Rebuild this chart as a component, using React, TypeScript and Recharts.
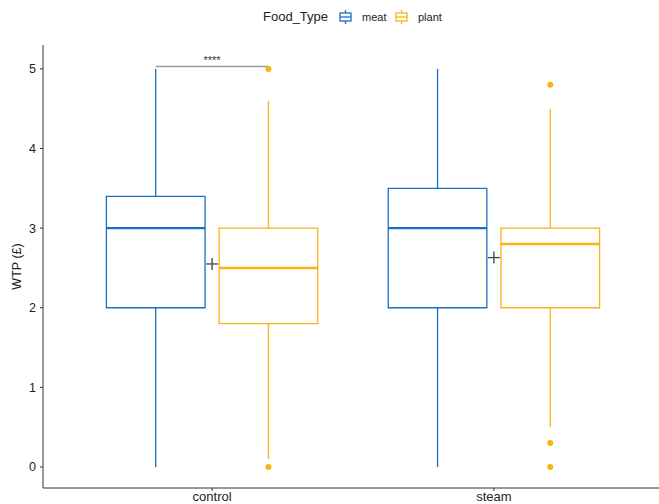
import React from 'react'
import {
  ComposedChart,
  XAxis,
  YAxis,
  Scatter,
  ReferenceArea,
  ReferenceLine,
} from 'recharts'

const groups = ['control', 'steam']
const foodTypes = ['meat', 'plant']
const foodColors = ['#1b6fc2', '#f9b313']

// five-number summaries per group (control, steam)
const meatMin = [0, 0]
const meatQ1 = [2, 2]
const meatMedian = [3, 3]
const meatQ3 = [3.4, 3.5]
const meatMax = [5, 5]

const plantMin = [0.1, 0.5]
const plantQ1 = [1.8, 2]
const plantMedian = [2.5, 2.8]
const plantQ3 = [3, 3]
const plantMax = [4.6, 4.5]

const plantOutliers = [[0, 5], [0, 0.3, 4.8]]
const groupMeans = [2.55, 2.63]

const yTicks = [0, 1, 2, 3, 4, 5]
const xTicks = [1, 2]
const pLabel = '****'
const bracketY = 5.03

const DODGE = 0.2
const HALF_BOX = 0.175
const FONT = '"Liberation Sans", Arial, sans-serif'
const AXIS = '#333333'

const stats = [
  { min: meatMin, q1: meatQ1, med: meatMedian, q3: meatQ3, max: meatMax },
  { min: plantMin, q1: plantQ1, med: plantMedian, q3: plantQ3, max: plantMax },
]

const boxes = foodTypes.flatMap((food, fi) =>
  groups.map((group, gi) => ({
    key: `${food}-${group}`,
    x: gi + 1 + (fi === 0 ? -DODGE : DODGE),
    color: foodColors[fi],
    min: stats[fi].min[gi],
    q1: stats[fi].q1[gi],
    med: stats[fi].med[gi],
    q3: stats[fi].q3[gi],
    max: stats[fi].max[gi],
  }))
)

const outlierData = plantOutliers.flatMap((vals, gi) =>
  vals.map((v) => ({ x: gi + 1 + DODGE, y: v }))
)
const meanData = groupMeans.map((m, gi) => ({ x: gi + 1, y: m }))

const PlusShape = (props: any) => {
  const { cx, cy } = props
  return (
    <g stroke="#444" strokeWidth={1.3}>
      <line x1={cx - 6} x2={cx + 6} y1={cy} y2={cy} />
      <line x1={cx} x2={cx} y1={cy - 6} y2={cy + 6} />
    </g>
  )
}

const DotShape = (props: any) => (
  <circle cx={props.cx} cy={props.cy} r={3} fill={foodColors[1]} />
)

const BoxKey = ({ color }: { color: string }) => (
  <svg width={13} height={14} style={{ display: 'block' }}>
    <g stroke={color} strokeWidth={1.3} fill="none">
      <line x1={6.5} x2={6.5} y1={0} y2={3} />
      <line x1={6.5} x2={6.5} y1={11} y2={14} />
      <rect x={1} y={3} width={11} height={8} />
      <line x1={1} x2={12} y1={7} y2={7} />
    </g>
  </svg>
)

export default function App() {
  return (
    <div style={{ position: 'relative', width: 659, height: 504, overflow: 'hidden', background: '#fff' }}>
      <style>{'body{margin:0}'}</style>
      <div style={{ position: 'absolute', left: 263, top: 9, fontFamily: FONT, fontSize: 13, color: '#222' }}>
        Food_Type
      </div>
      {foodTypes.map((food, i) => (
        <div
          key={food}
          style={{
            position: 'absolute',
            left: i === 0 ? 339 : 395,
            top: 10,
            display: 'flex',
            alignItems: 'center',
            gap: 10,
            fontFamily: FONT,
            fontSize: 11,
            color: '#222',
          }}
        >
          <BoxKey color={foodColors[i]} />
          <span>{food}</span>
        </div>
      ))}
      <ComposedChart width={664} height={504} margin={{ top: 45, right: 1, left: 0, bottom: 0 }}>
        <XAxis
          type="number"
          dataKey="x"
          domain={[0.4, 2.6]}
          ticks={xTicks}
          tickFormatter={(v) => groups[v - 1]}
          allowDataOverflow
          height={16}
          tickSize={3}
          tickMargin={1}
          stroke={AXIS}
          tick={{ fill: '#222', fontSize: 13, fontFamily: FONT }}
        />
        <YAxis
          type="number"
          dataKey="y"
          domain={[-0.264, 5.3]}
          ticks={yTicks}
          allowDataOverflow
          width={43}
          tickSize={3}
          tickMargin={4}
          stroke={AXIS}
          tick={{ fill: '#222', fontSize: 12.5, fontFamily: FONT }}
          label={{
            value: 'WTP (£)',
            angle: -90,
            position: 'insideLeft',
            offset: 17,
            style: { textAnchor: 'middle', fontSize: 12.5, fontFamily: FONT, fill: '#222' },
          }}
        />
        {boxes.map((b) => (
          <ReferenceLine
            key={`lw-${b.key}`}
            segment={[{ x: b.x, y: b.min }, { x: b.x, y: b.q1 }]}
            stroke={b.color}
            strokeWidth={1.3}
          />
        ))}
        {boxes.map((b) => (
          <ReferenceLine
            key={`uw-${b.key}`}
            segment={[{ x: b.x, y: b.q3 }, { x: b.x, y: b.max }]}
            stroke={b.color}
            strokeWidth={1.3}
          />
        ))}
        {boxes.map((b) => (
          <ReferenceArea
            key={`box-${b.key}`}
            x1={b.x - HALF_BOX}
            x2={b.x + HALF_BOX}
            y1={b.q1}
            y2={b.q3}
            fill="none"
            stroke={b.color}
            strokeWidth={1.3}
          />
        ))}
        {boxes.map((b) => (
          <ReferenceLine
            key={`med-${b.key}`}
            segment={[{ x: b.x - HALF_BOX, y: b.med }, { x: b.x + HALF_BOX, y: b.med }]}
            stroke={b.color}
            strokeWidth={2.4}
          />
        ))}
        <ReferenceLine
          segment={[{ x: 1 - DODGE, y: bracketY }, { x: 1 + DODGE, y: bracketY }]}
          stroke="#9a9a9a"
          strokeWidth={1.6}
          label={{ value: pLabel, position: 'top', offset: 2, fontSize: 11, fill: '#333', fontFamily: FONT }}
        />
        <Scatter data={outlierData} shape={DotShape} isAnimationActive={false} />
        <Scatter data={meanData} shape={PlusShape} isAnimationActive={false} />
      </ComposedChart>
    </div>
  )
}
